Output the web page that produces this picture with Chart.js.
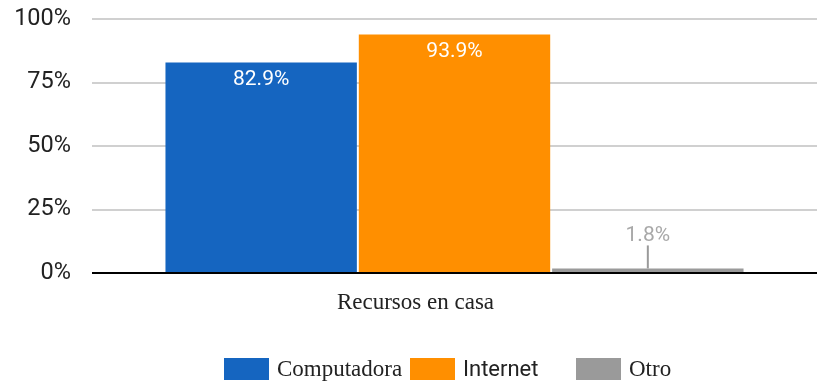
<!DOCTYPE html>
<html>
<head>
<meta charset="utf-8">
<script src="https://cdn.jsdelivr.net/npm/chart.js@4.4.1/dist/chart.umd.min.js"></script>
<style>
  html, body { margin: 0; padding: 0; background: #fff; }
  #wrap { width: 826px; height: 384px; }
</style>
</head>
<body>
<div id="wrap"><canvas id="chart" width="826" height="384"></canvas></div>
<script>
// data
const categories = ['Recursos en casa'];
const seriesNames = ['Computadora', 'Internet', 'Otro'];
const seriesValues = [[82.9], [93.9], [1.8]];
const seriesColors = ['#1565C0', '#FF8F00', '#9A9A9A'];
const yTicks = [0, 25, 50, 75, 100];

// legend styling (each entry has its own face)
const legendFonts = [
    '23px "Liberation Serif", serif',
    '22px Roboto, sans-serif',
    '23px "Liberation Serif", serif'
];
const legendX = [224, 410, 576];

const valueLabels = {
    id: 'valueLabels',
    afterDatasetsDraw(chart) {
        const ctx = chart.ctx;
        ctx.save();
        ctx.font = '21px Roboto, sans-serif';
        ctx.textAlign = 'center';
        ctx.textBaseline = 'middle';
        chart.data.datasets.forEach((ds, i) => {
            const meta = chart.getDatasetMeta(i);
            meta.data.forEach((bar, j) => {
                const v = ds.data[j];
                const txt = v.toFixed(1) + '%';
                if (v > 10) {
                    ctx.fillStyle = '#ffffff';
                    ctx.fillText(txt, bar.x, bar.y + 17);
                } else {
                    // small value: label above with a leader line
                    ctx.fillStyle = '#A8A8A8';
                    ctx.fillText(txt, bar.x, bar.y - 33);
                    ctx.strokeStyle = ds.backgroundColor;
                    ctx.lineWidth = 2;
                    ctx.beginPath();
                    ctx.moveTo(bar.x, bar.y - 23);
                    ctx.lineTo(bar.x, bar.y);
                    ctx.stroke();
                }
            });
        });
        ctx.restore();
    }
};

const bottomLegend = {
    id: 'bottomLegend',
    afterDraw(chart) {
        const ctx = chart.ctx;
        ctx.save();
        ctx.textBaseline = 'middle';
        ctx.textAlign = 'left';
        chart.data.datasets.forEach((ds, i) => {
            const x = legendX[i];
            ctx.fillStyle = ds.backgroundColor;
            ctx.fillRect(x, 358, 45, 22);
            ctx.fillStyle = '#222';
            ctx.font = legendFonts[i];
            ctx.fillText(ds.label, x + 53, 370);
        });
        ctx.restore();
    }
};

new Chart(document.getElementById('chart'), {
    type: 'bar',
    data: {
        labels: categories,
        datasets: seriesNames.map((name, i) => ({
            label: name,
            data: seriesValues[i],
            backgroundColor: seriesColors[i],
            borderWidth: 0,
            categoryPercentage: 0.8,
            barPercentage: 0.99
        }))
    },
    options: {
        responsive: false,
        animation: false,
        devicePixelRatio: 1,
        layout: { padding: { top: 19, right: 9, bottom: 61, left: 0 } },
        plugins: {
            legend: { display: false },
            tooltip: { enabled: false }
        },
        scales: {
            x: {
                grid: { display: false },
                border: { display: false },
                ticks: {
                    color: '#222',
                    font: { family: '"Liberation Serif", serif', size: 23 },
                    padding: 8,
                    labelOffset: -39
                },
                afterFit(scale) { scale.height = 50; scale.paddingLeft = 0; scale.paddingRight = 0; }
            },
            y: {
                min: 0,
                max: 100,
                afterBuildTicks(scale) { scale.ticks = yTicks.map(v => ({ value: v })); },
                ticks: {
                    color: '#222',
                    font: { family: 'Roboto, sans-serif', size: 23.5 },
                    padding: 21,
                    callback: v => v + '%'
                },
                grid: {
                    drawTicks: false,
                    color: c => c.tick && c.tick.value === 0 ? '#000' : '#D0D0D0',
                    lineWidth: 2
                },
                border: { display: false },
                afterFit(scale) { scale.width = 92; scale.paddingTop = 0; scale.paddingBottom = 0; }
            }
        }
    },
    plugins: [valueLabels, bottomLegend]
});
</script>
</body>
</html>
